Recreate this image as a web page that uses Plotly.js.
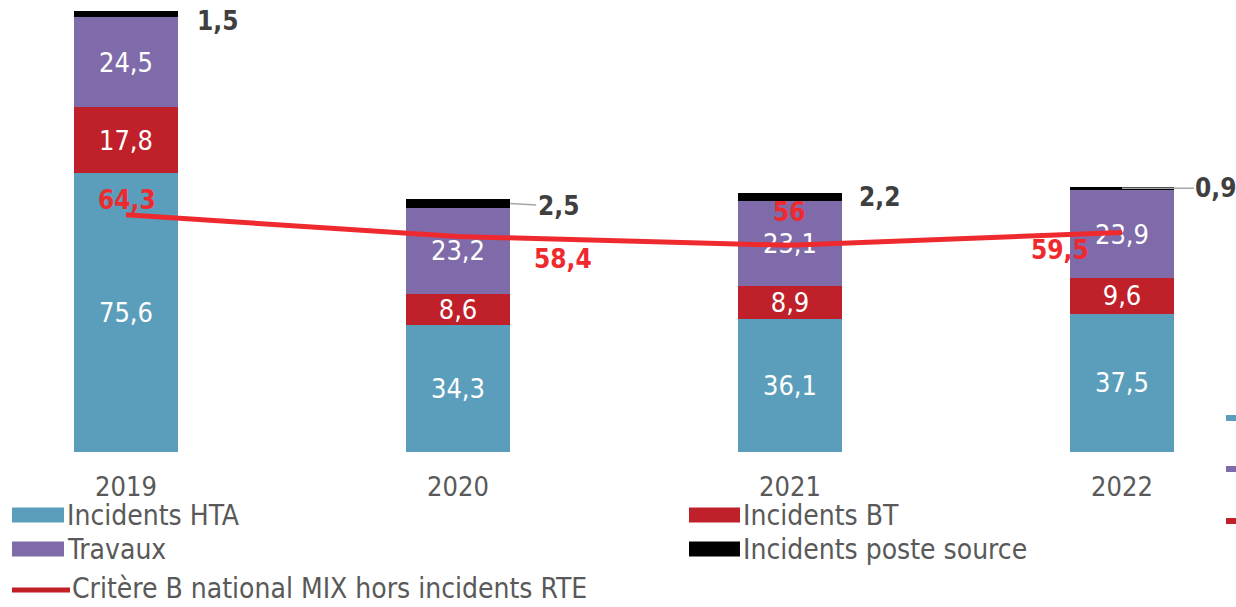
<!DOCTYPE html>
<html>
<head>
<meta charset="utf-8">
<script src="https://cdn.plot.ly/plotly-3.0.1.min.js"></script>
<style>html,body{margin:0;padding:0;background:#fff;}#chart{width:1236px;height:607px;}</style>
</head>
<body>
<div id="chart"></div>
<script>
const years = ['2019', '2020', '2021', '2022'];
const incidentsHTA = [75.6, 34.3, 36.1, 37.5];
const incidentsBT = [17.8, 8.6, 8.9, 9.6];
const travaux = [24.5, 23.2, 23.1, 23.9];
const posteSource = [1.5, 2.5, 2.2, 0.9];
const critereB = [64.3, 58.4, 56, 59.5];
const seriesNames = ['Incidents HTA', 'Incidents BT', 'Travaux', 'Incidents poste source', 'Critère B national MIX hors incidents RTE'];

const FONT = 'DejaVu Sans Condensed, DejaVu Sans, sans-serif';
const fmt = v => String(v).replace('.', ',');
const colors = {hta: '#5B9EBB', bt: '#C0202A', trav: '#806BAA', poste: '#000000', line: '#EE2A2E', legLine: '#C01F25'};

function barTrace(name, vals, color, showText) {
  return {
    type: 'bar', name: name, x: years, y: vals,
    marker: {color: color, line: {width: 0}},
    text: showText ? vals.map(fmt) : undefined,
    textposition: showText ? 'inside' : 'none',
    insidetextanchor: 'middle',
    constraintext: 'none',
    textfont: {family: FONT, size: 27, color: '#FFFFFF'},
    hoverinfo: 'skip', showlegend: false
  };
}

const traces = [
  barTrace(seriesNames[0], incidentsHTA, colors.hta, true),
  barTrace(seriesNames[1], incidentsBT, colors.bt, true),
  barTrace(seriesNames[2], travaux, colors.trav, true),
  barTrace(seriesNames[3], posteSource, colors.poste, false),
  {type: 'scatter', mode: 'lines', name: seriesNames[4], x: years, y: critereB,
   line: {color: colors.line, width: 5}, hoverinfo: 'skip', showlegend: false}
];

const annotations = [];
// poste source labels
const posteOpts = [
  {xshift: 92, yshift: -10, arrow: false, useTop: true},
  {arrow: true, ax: 48, ay: 3, edge: true},
  {xshift: 90, yshift: 0, arrow: false},
  {arrow: true, ax: 94, ay: 0, edge: false, useTop: true}
];
years.forEach((yr, i) => {
  const base = incidentsHTA[i] + incidentsBT[i] + travaux[i];
  const top = base + posteSource[i];
  const mid = base + posteSource[i] / 2;
  const o = posteOpts[i];
  const a = {
    xref: 'x', yref: 'y', text: '<b>' + fmt(posteSource[i]) + '</b>',
    font: {family: FONT, size: 26, color: '#3F3F3F'}
  };
  if (o.arrow) {
    a.x = o.edge ? i + 0.157 : i;
    a.y = o.useTop ? top - posteSource[i] / 2 : mid;
    a.showarrow = true; a.arrowhead = 0; a.arrowwidth = 1.5; a.arrowcolor = '#A6A6A6';
    a.ax = o.ax; a.ay = o.ay; a.standoff = 0;
  } else {
    a.x = i; a.y = o.useTop ? top : mid; a.showarrow = false;
    a.xshift = o.xshift; a.yshift = o.yshift;
  }
  annotations.push(a);
});
// line labels
const lineShifts = [[1, 15], [105, -22], [0, 33], [-62, -18]];
years.forEach((yr, i) => {
  annotations.push({
    xref: 'x', yref: 'y', x: i, y: critereB[i], showarrow: false,
    xshift: lineShifts[i][0], yshift: lineShifts[i][1],
    text: '<b>' + fmt(critereB[i]) + '</b>',
    font: {family: FONT, size: 26, color: colors.line}
  });
});

// custom legend (pixel -> paper helpers)
const W = 1236, PLOT_H = 452;
const px = p => p / W;
const py = p => (PLOT_H - p) / PLOT_H;
const shapes = [];
const legendItems = [
  {name: seriesNames[0], color: colors.hta, x0: 12, x1: 64, yc: 515},
  {name: seriesNames[1], color: colors.bt, x0: 689, x1: 740, yc: 515},
  {name: seriesNames[2], color: colors.trav, x0: 12, x1: 64, yc: 549},
  {name: seriesNames[3], color: colors.poste, x0: 689, x1: 740, yc: 549}
];
legendItems.forEach(it => {
  shapes.push({type: 'rect', xref: 'paper', yref: 'paper', x0: px(it.x0), x1: px(it.x1),
    y0: py(it.yc - 7.5), y1: py(it.yc + 7.5), fillcolor: it.color, line: {width: 0}, layer: 'above'});
  annotations.push({xref: 'paper', yref: 'paper', x: px(it.x1 + 1), y: py(it.yc), xanchor: 'left', yanchor: 'middle',
    showarrow: false, text: it.name, font: {family: FONT, size: 28, color: '#595959'}});
});
shapes.push({type: 'line', xref: 'paper', yref: 'paper', x0: px(12), x1: px(70), y0: py(590), y1: py(590),
  line: {color: colors.legLine, width: 5}, layer: 'above'});
annotations.push({xref: 'paper', yref: 'paper', x: px(70), y: py(607), xanchor: 'left', yanchor: 'bottom',
  showarrow: false, text: seriesNames[4], font: {family: FONT, size: 28, color: '#595959'}});
// cropped second legend marks on the right edge
[[colors.hta, 418], [colors.trav, 469], [colors.bt, 521]].forEach(m => {
  shapes.push({type: 'line', xref: 'paper', yref: 'paper', x0: px(1226), x1: px(1245), y0: py(m[1]), y1: py(m[1]),
    line: {color: m[0], width: 6}, layer: 'above'});
});

const layout = {
  width: 1236, height: 607,
  margin: {l: 0, r: 0, t: 0, b: 155, pad: 0},
  paper_bgcolor: '#FFFFFF', plot_bgcolor: '#FFFFFF',
  barmode: 'stack', bargap: 0.687,
  showlegend: false,
  font: {family: FONT, color: '#595959'},
  xaxis: {
    type: 'category', range: [-0.3795, 3.3434], showgrid: false, zeroline: false,
    showline: false, ticks: '', ticklabelstandoff: 16,
    tickfont: {family: FONT, size: 27, color: '#595959'}, fixedrange: true
  },
  yaxis: {
    range: [0, 122.5], showgrid: false, zeroline: false, showline: false,
    showticklabels: false, ticks: '', fixedrange: true
  },
  annotations: annotations,
  shapes: shapes
};

Plotly.newPlot('chart', traces, layout, {displayModeBar: false, staticPlot: true});
</script>
</body>
</html>
